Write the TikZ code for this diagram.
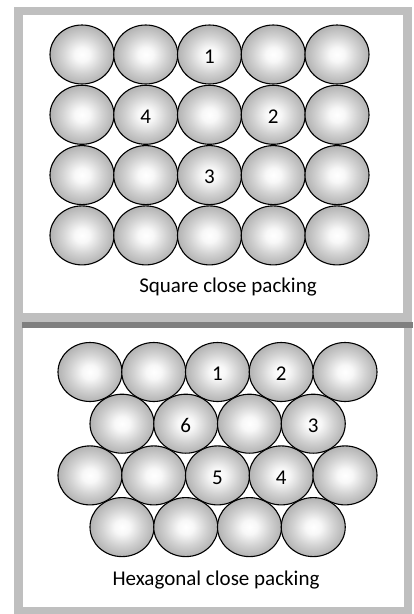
\documentclass[tikz,border=0pt]{standalone}
\usepackage{fontspec}
\setmainfont{Carlito}
\usetikzlibrary{shapes.geometric}

\definecolor{framegray}{HTML}{BFBFBF}
\definecolor{bandgray}{HTML}{7F7F7F}

\pgfdeclareradialshading{ballshade}{\pgfpoint{0bp}{0bp}}{%
    color(0bp)=(white); color(6bp)=(white!97!black);
    color(16bp)=(black!18); color(25bp)=(black!30); color(50bp)=(black!30)}

\tikzset{
    ball/.style={ellipse, draw=black, line width=1.1pt,
        minimum width=64pt, minimum height=59pt, inner sep=0pt,
        shading=ballshade},
    num/.style={font=\fontsize{21}{24}\selectfont, yshift=-2pt},
    caption/.style={font=\fontsize{21}{24}\selectfont},
}

\begin{document}
\begin{tikzpicture}[x=1pt, y=-1pt]
        \useasboundingbox (0,0) rectangle (413,614);

        % ramecky
        \draw[framegray, line width=8.5pt] (18.25,11) rectangle (407.5,317.5);
        \draw[framegray, line width=8.5pt] (18.25,322) rectangle (408,611);
        \fill[bandgray] (22,322) rectangle (413,327.5);

        % ctvercove usporadani
        \foreach \r in {1,...,4}
            \foreach \c in {1,...,5}
                \node[ball] (sq-\r-\c) at ({82+(\c-1)*63.75},{54.5+(\r-1)*60.3}) {};

        \node[num] (sq1) at (sq-1-3) {1};
        \node[num] (sq2) at (sq-2-4) {2};
        \node[num] (sq3) at (sq-3-3) {3};
        \node[num] (sq4) at (sq-2-2) {4};

        \node[caption] (sqtext) at (228,287) {Square close packing};

        % sestiuhelnikove usporadani
        \foreach \r in {1,3}
            \foreach \c in {1,...,5}
                \node[ball] (hx-\r-\c) at ({90+(\c-1)*63.75},{372+(\r-1)*51.7}) {};
        \foreach \r in {2,4}
            \foreach \c in {1,...,4}
                \node[ball] (hx-\r-\c) at ({122+(\c-1)*63.75},{372+(\r-1)*51.7}) {};

        \node[num] (hx1) at (hx-1-3) {1};
        \node[num] (hx2) at (hx-1-4) {2};
        \node[num] (hx3) at (hx-2-4) {3};
        \node[num] (hx4) at (hx-3-4) {4};
        \node[num] (hx5) at (hx-3-3) {5};
        \node[num] (hx6) at (hx-2-2) {6};

        \node[caption] (hxtext) at (216,580) {Hexagonal close packing};
\end{tikzpicture}
\end{document}
